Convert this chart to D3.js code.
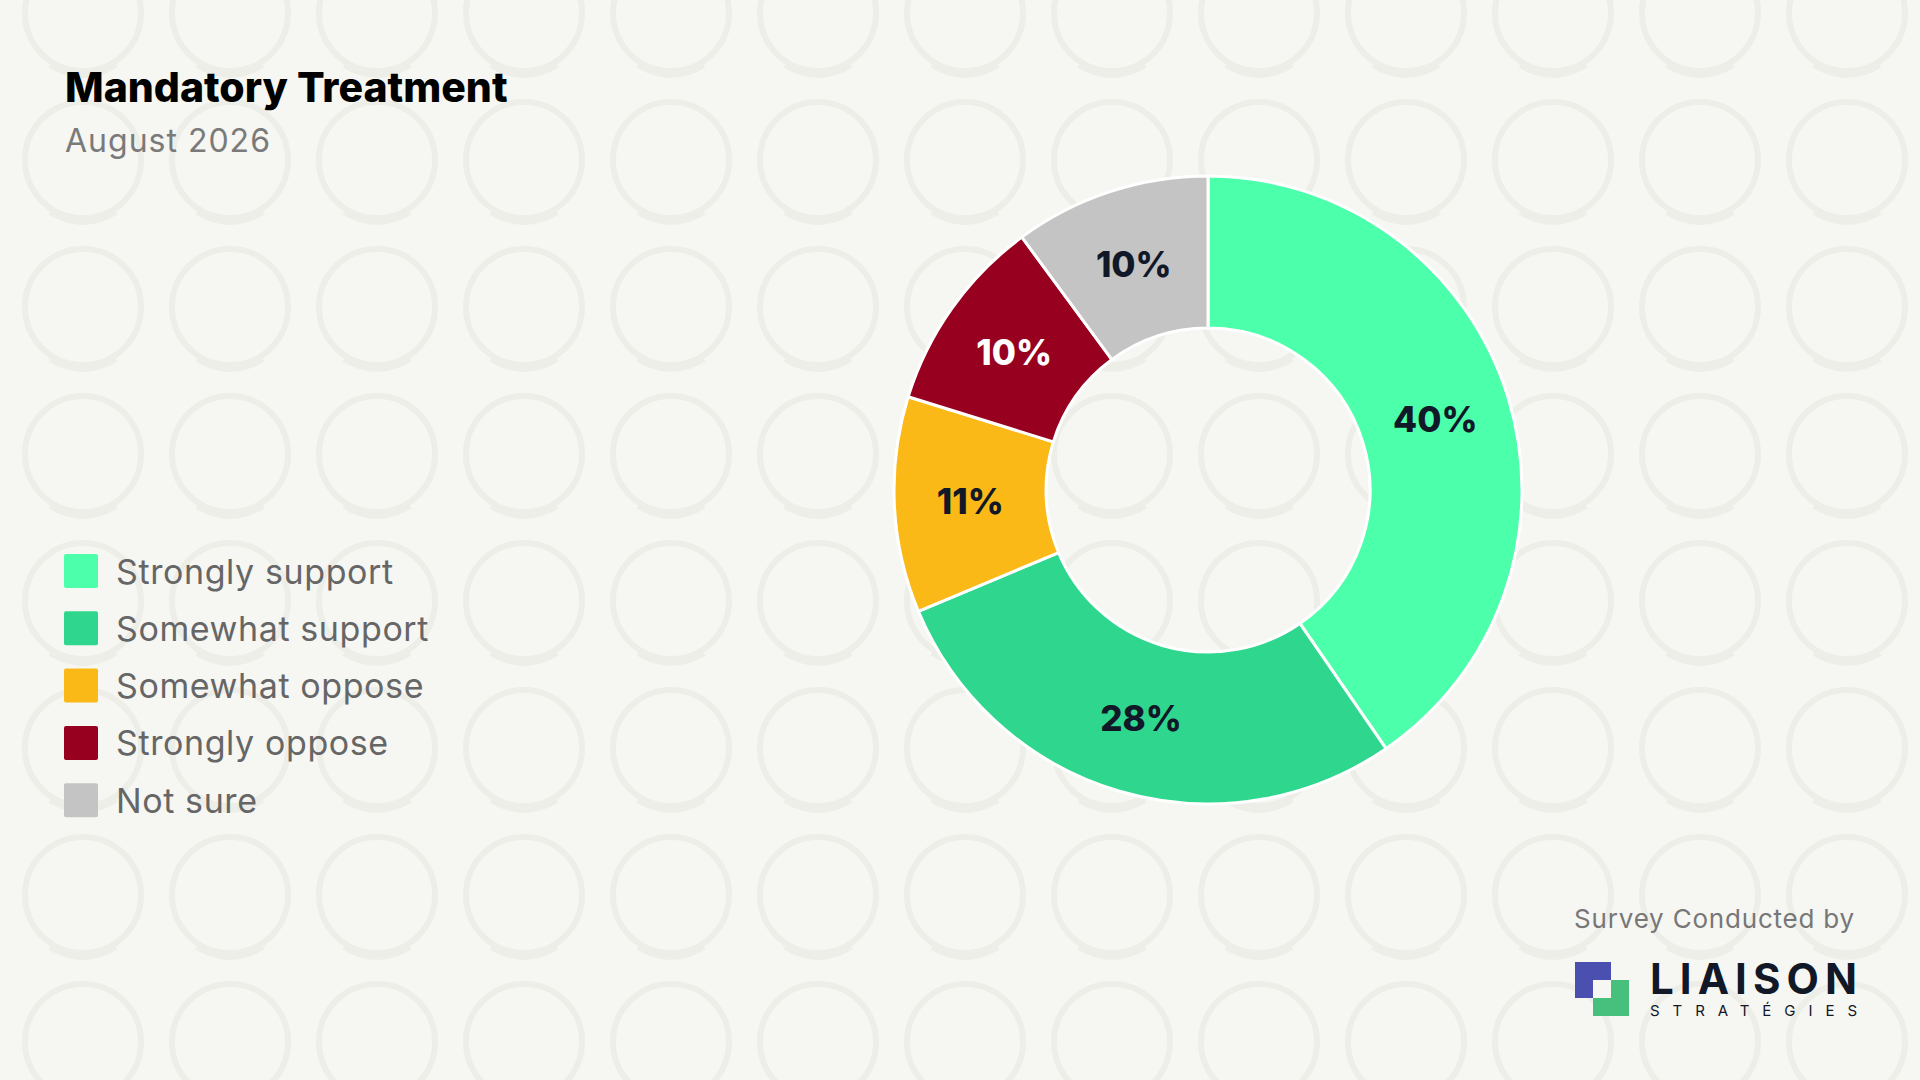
<!DOCTYPE html>
<html><head><meta charset="utf-8">
<script src="https://cdn.jsdelivr.net/npm/d3@7"></script>
<style>body{margin:0;background:#f6f6f2;}svg{display:block;font-family:Inter,"Open Sans",sans-serif;}</style>
</head><body><svg id="c" width="1920" height="1080"></svg>
<script>
const categories=["Strongly support","Somewhat support","Somewhat oppose","Strongly oppose","Not sure"];
const values=[40,28,11,10,10];
const colors=["#4cffab","#2fd78e","#fbb918","#97001e","#c4c4c4"];
const labelColors=["#111827","#111827","#111827","#ffffff","#111827"];

const svg=d3.select("#c");
svg.append("rect").attr("width",1920).attr("height",1080).attr("fill","#f6f6f2");
const defs=svg.append("defs");
const pat=defs.append("pattern").attr("id","bg").attr("width",147).attr("height",147).attr("patternUnits","userSpaceOnUse").attr("x",10).attr("y",-60);
pat.append("circle").attr("cx",73).attr("cy",73).attr("r",58).attr("fill","none").attr("stroke","#eeeee9").attr("stroke-width",6);
pat.append("path").attr("d","M40,125 Q73,145 106,125").attr("fill","none").attr("stroke","#eeeee9").attr("stroke-width",6);
svg.append("rect").attr("width",1920).attr("height",1080).attr("fill","url(#bg)");

svg.append("text").attr("x",65).attr("y",102).attr("font-size",41).attr("font-weight",800).attr("fill","#000").text("Mandatory Treatment");
svg.append("text").attr("x",65).attr("y",152).attr("font-size",32).attr("letter-spacing",1).attr("fill","#7a7a7a").text("August 2026");

const cx=1208,cy=490,ro=314,ri=162;
const pie=d3.pie().sort(null).value(d=>d)(values);
const arc=d3.arc().innerRadius(ri).outerRadius(ro);
const lab=d3.arc().innerRadius(238).outerRadius(238);
const g=svg.append("g").attr("transform",`translate(${cx},${cy})`);
g.selectAll("path").data(pie).join("path").attr("d",arc).attr("fill",(d,i)=>colors[i]).attr("stroke","#fff").attr("stroke-width",3);
g.selectAll("text").data(pie).join("text").attr("transform",d=>`translate(${lab.centroid(d)})`)
 .attr("text-anchor","middle").attr("dominant-baseline","central").attr("font-size",35).attr("font-weight",800)
 .attr("fill",(d,i)=>labelColors[i]).text(d=>d.data+"%");

const lg=svg.append("g");
categories.forEach((c,i)=>{
  const y=571+i*57.3;
  lg.append("rect").attr("x",64).attr("y",y-17).attr("width",34).attr("height",34).attr("rx",2).attr("fill",colors[i]);
  lg.append("text").attr("x",116).attr("y",y).attr("dominant-baseline","central").attr("font-size",34).attr("letter-spacing",0.6).attr("fill","#666").text(c);
});

svg.append("text").attr("x",1855).attr("y",928).attr("text-anchor","end").attr("font-size",26).attr("letter-spacing",0.8).attr("fill","#777").text("Survey Conducted by");
svg.append("rect").attr("x",1575).attr("y",962).attr("width",36).attr("height",36).attr("fill","#4a4fb0");
svg.append("rect").attr("x",1593).attr("y",980).attr("width",36).attr("height",36).attr("fill","#46c07c");
svg.append("rect").attr("x",1593).attr("y",980).attr("width",18).attr("height",18).attr("fill","#f6f6f2");
svg.append("text").attr("x",1650).attr("y",994).attr("font-size",42).attr("font-weight",700).attr("fill","#111827").attr("textLength",207).attr("lengthAdjust","spacing").text("LIAISON");
svg.append("text").attr("x",1650).attr("y",1016).attr("font-size",15).attr("fill","#111827").attr("textLength",207).attr("lengthAdjust","spacing").text("STRATÉGIES");
</script></body></html>
